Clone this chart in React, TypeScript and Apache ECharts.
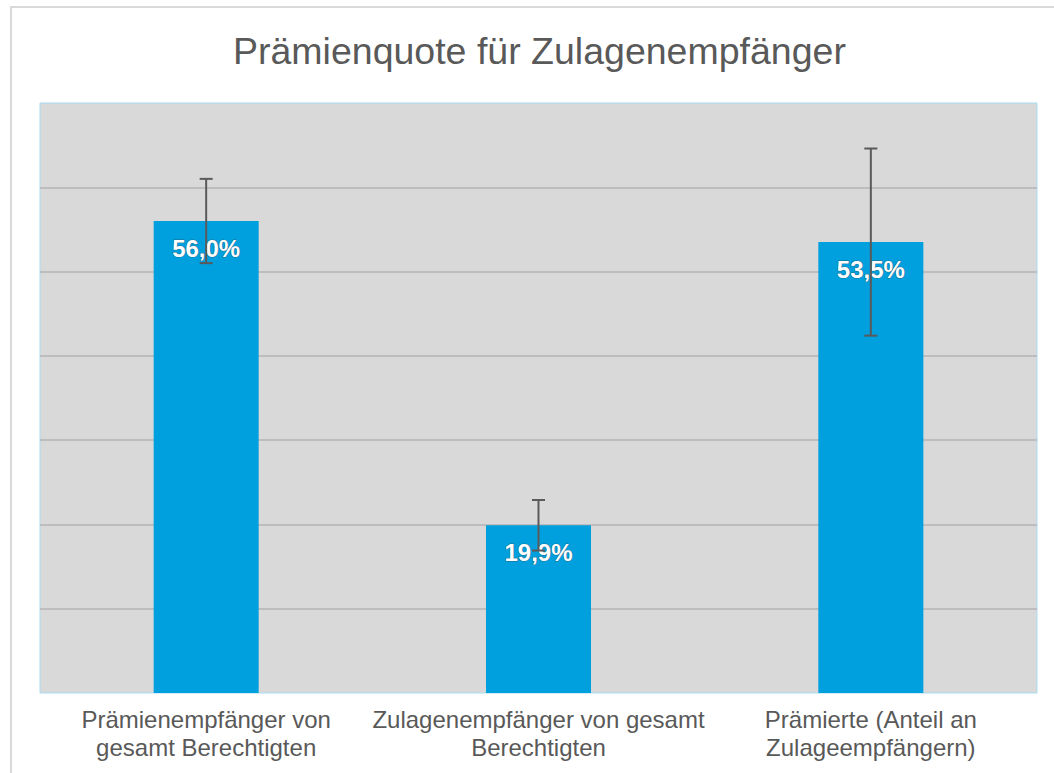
import React, { useEffect, useRef } from "react";
import * as echarts from "echarts";

const categories = [
  "Prämienempfänger von\ngesamt Berechtigten",
  "Zulagenempfänger von gesamt\nBerechtigten",
  "Prämierte (Anteil an\nZulageempfängern)",
];
const values = [56.0, 19.9, 53.5];
const errors = [5.0, 3.0, 11.1];
const labels = ["56,0%", "19,9%", "53,5%"];

const FONT = "'Liberation Sans', Arial, sans-serif";

export default function App() {
  const ref = useRef<HTMLDivElement>(null);
  useEffect(() => {
    const chart = echarts.init(ref.current!, null, { renderer: "svg" });
    const T = "rgba(0,0,0,0)";
    const G = "#bdbdbd";
    chart.setOption({
      animation: false,
      backgroundColor: "#ffffff",
      title: {
        text: "Prämienquote für Zulagenempfänger",
        left: 228,
        top: 27,
        textStyle: {
          fontFamily: FONT,
          fontSize: 37.5,
          fontWeight: "normal",
          color: "#595959",
        },
      },
      graphic: [
        {
          type: "rect",
          shape: { x: 11, y: 7, width: 1100, height: 900 },
          style: { fill: "none", stroke: "#d9d9d9", lineWidth: 2 },
          silent: true,
          z: -10,
        },
      ],
      grid: {
        left: 40,
        right: 17,
        top: 103,
        bottom: 80,
        show: true,
        backgroundColor: "#d9d9d9",
        borderColor: "#a9dcf2",
        borderWidth: 1,
      },
      xAxis: {
        type: "category",
        data: categories,
        axisLine: { show: false },
        axisTick: { show: false },
        axisLabel: {
          color: "#595959",
          fontSize: 24,
          lineHeight: 28,
          margin: 12,
          fontFamily: FONT,
          interval: 0,
        },
      },
      yAxis: {
        type: "value",
        min: 0,
        max: 70,
        interval: 10,
        axisLabel: { show: false },
        axisLine: { show: false },
        axisTick: { show: false },
        splitLine: { lineStyle: { color: [T, G, G, G, G, G, G, T], width: 2 } },
      },
      series: [
        {
          type: "bar",
          data: values,
          barWidth: "31.6%",
          itemStyle: { color: "#009fde" },
          label: {
            show: true,
            position: "insideTop",
            distance: 15,
            formatter: (p: any) => labels[p.dataIndex],
            color: "#ffffff",
            fontSize: 24,
            fontWeight: "bold",
            fontFamily: FONT,
            textBorderColor: "rgba(60,60,60,0.55)",
            textBorderWidth: 1,
          },
          z: 2,
        },
        {
          type: "custom",
          data: values.map((v, i) => [i, v - errors[i], v + errors[i]]),
          z: 5,
          renderItem: (params: any, api: any) => {
            const x = api.value(0);
            const lo = api.coord([x, api.value(1)]);
            const hi = api.coord([x, api.value(2)]);
            const w = 6.5;
            const style = { stroke: "#5a5a5a", lineWidth: 2 };
            return {
              type: "group",
              children: [
                { type: "line", shape: { x1: lo[0], y1: lo[1], x2: hi[0], y2: hi[1] }, style },
                { type: "line", shape: { x1: lo[0] - w, y1: lo[1], x2: lo[0] + w, y2: lo[1] }, style },
                { type: "line", shape: { x1: hi[0] - w, y1: hi[1], x2: hi[0] + w, y2: hi[1] }, style },
              ],
            };
          },
        },
      ],
    });
    return () => chart.dispose();
  }, []);
  return (
    <div
      ref={ref}
      style={{ position: "fixed", left: 0, top: 0, width: 1054, height: 773 }}
    />
  );
}
